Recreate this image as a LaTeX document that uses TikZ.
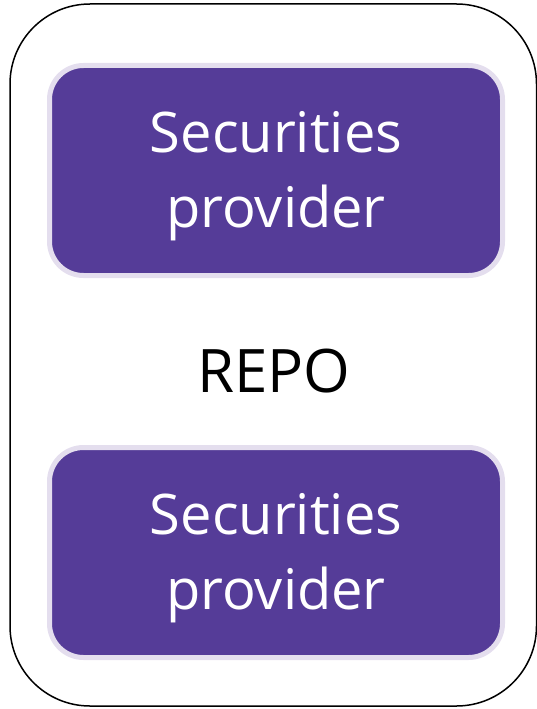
\documentclass[tikz,border=0pt]{standalone}
\usepackage{fontspec}
\setmainfont{Open Sans}
\definecolor{repopurple}{HTML}{553C98}
\definecolor{repolavender}{HTML}{E4DEEE}

\tikzset{
	provider/.style={fill=repopurple,draw=repolavender,line width=5pt,rounded corners=34pt,
		minimum width=453pt,minimum height=210pt},
	providertext/.style={text=white,align=center,font=\fontsize{56}{75}\selectfont},
	repolabel/.style={font=\fontsize{60}{75}\selectfont,text=black}
}

\begin{document}
\begin{tikzpicture}[x=1pt,y=1pt]
			\useasboundingbox (0,0) rectangle (537,-709);
			\draw[black,line width=1.5pt,rounded corners=80pt] (10,-4) rectangle (536.5,-706);
			\node[provider] (top) at (276,-170.5) {};
			\node[provider] (bottom) at (276,-552.5) {};
			\node[providertext] (toptext) at ([yshift=-6pt]top.center) {Securities\\provider};
			\node[providertext] (bottomtext) at ([yshift=-6pt]bottom.center) {Securities\\provider};
			\node[repolabel] (repo) at (274,-371) {REPO};
		\end{tikzpicture}
\end{document}
